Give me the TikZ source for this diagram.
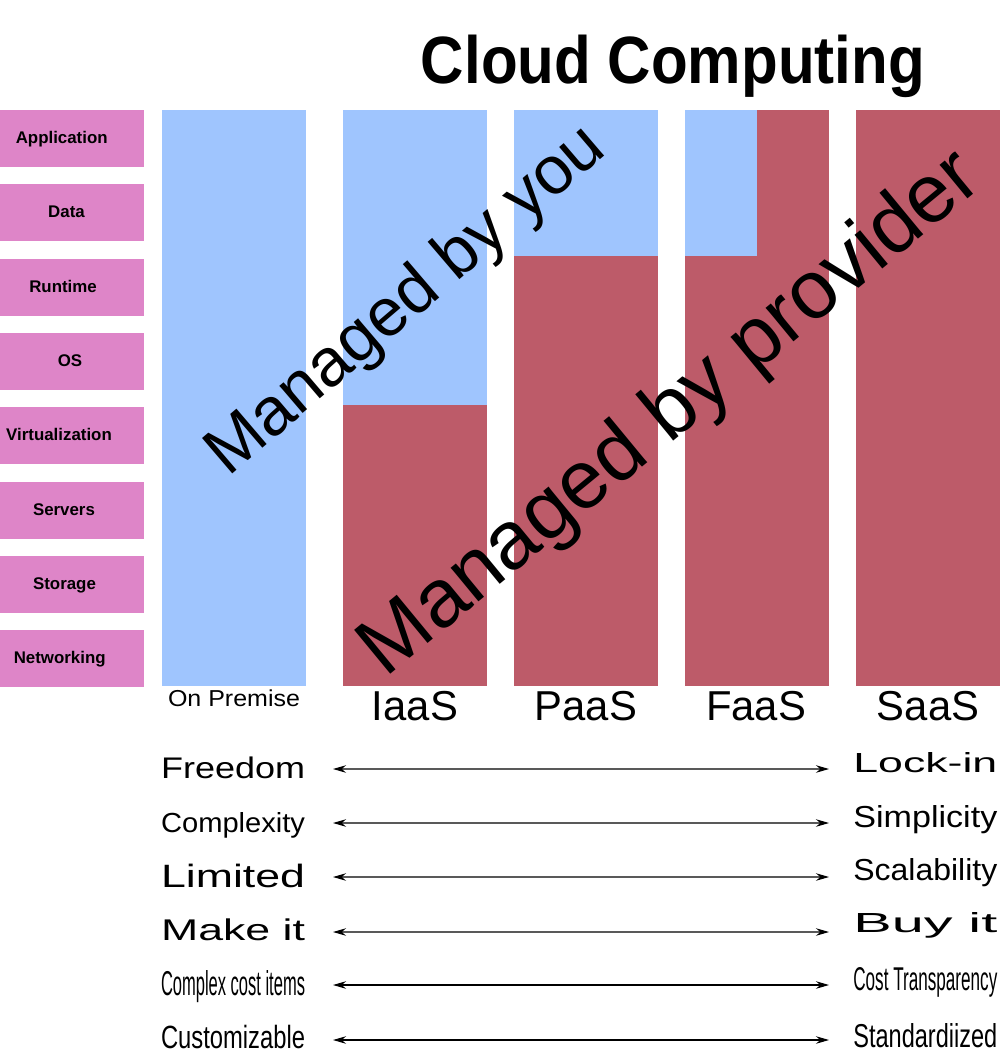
\documentclass[tikz,border=0pt]{standalone}
\usepackage{fontspec}
\setmainfont{Liberation Sans}
\usetikzlibrary{arrows.meta}
\definecolor{youblue}{HTML}{9FC5FE}
\definecolor{provred}{HTML}{BD5B69}
\definecolor{layerpink}{HTML}{DE85C8}
\newcommand{\fitlabel}[2]{\resizebox{2.88cm}{#1}{#2}}

\begin{document}
\begin{tikzpicture}[x=0.02cm, y=-0.02cm,
  layertext/.style={anchor=base, inner sep=0pt, font=\fontsize{9.6}{10}\selectfont\bfseries},
  coltext/.style={anchor=base, inner sep=0pt, font=\fontsize{23.8}{26}\selectfont},
  slanttext/.style={anchor=base west, inner sep=0pt},
  sidetext/.style={anchor=base west, inner sep=0pt},
  biarrow/.style={{Stealth[length=2.6mm,width=1.5mm,color=black]}-{Stealth[length=2.6mm,width=1.5mm,color=black]}, line width=0.6pt}]
  \useasboundingbox (0,0) rectangle (1000,1049);
  % title
  \node[anchor=base west, inner sep=0pt] (title) at (420.6,83.3)
    {\resizebox{10.08cm}{0.97cm}{\bfseries Cloud Computing}};
  % layers
  \foreach \i/\lab/\cx in {0/Application/61.7, 1/Data/66.5, 2/Runtime/63, 3/OS/70,
      4/Virtualization/59, 5/Servers/64, 6/Storage/64.5, 7/Networking/59.7} {
    \fill[layerpink] (0,110+74.3*\i) rectangle (144,167+74.3*\i);
    \node[layertext] (layer\i) at (\cx,143.5+74.3*\i) {\lab};
  }
  % on premise
  \fill[youblue] (162,110) rectangle (306,686);
  % IaaS
  \fill[youblue] (343,110) rectangle (487,405);
  \fill[provred] (343,405) rectangle (487,686);
  % PaaS
  \fill[youblue] (514,110) rectangle (658,256);
  \fill[provred] (514,256) rectangle (658,686);
  % FaaS
  \fill[provred] (685,110) rectangle (829,686);
  \fill[youblue] (685,110) rectangle (757,256);
  % SaaS
  \fill[provred] (856,110) rectangle (1000,686);
  % column names
  \node[anchor=base, inner sep=0pt] (onprem) at (234,706)
    {\resizebox{2.64cm}{0.334cm}{On Premise}};
  \node[coltext] (iaas) at (415,720) {IaaS};
  \node[coltext] (paas) at (586,720) {PaaS};
  \node[coltext] (faas) at (756,720) {FaaS};
  \node[coltext] (saas) at (928,720) {SaaS};
  % who manages what
  \node[slanttext, rotate=40.5, font=\fontsize{38.5}{40}\selectfont] (byyou) at (228,478) {Managed by you};
  \node[slanttext, rotate=39.5, font=\fontsize{47}{50}\selectfont] (byprov) at (385.7,678.4) {Managed by provider};
  % trade-offs, left side
  \node[sidetext] (freedom) at (160.7,778) {\fitlabel{0.432cm}{Freedom}};
  \node[sidetext] (complexity) at (160.7,832) {\fitlabel{0.40cm}{Complexity}};
  \node[sidetext] (limited) at (160.7,887) {\fitlabel{0.468cm}{Limited}};
  \node[sidetext] (makeit) at (160.7,940) {\fitlabel{0.434cm}{Make it}};
  \node[sidetext] (costitems) at (160.7,995) {\fitlabel{0.50cm}{Complex cost items}};
  \node[sidetext] (custom) at (160.7,1048) {\fitlabel{0.466cm}{Customizable}};
  % trade-offs, right side
  \node[sidetext] (lockin) at (853,772) {\fitlabel{0.40cm}{Lock-in}};
  \node[sidetext] (simplicity) at (853,827) {\fitlabel{0.44cm}{Simplicity}};
  \node[sidetext] (scalability) at (853,880) {\fitlabel{0.44cm}{Scalability}};
  \node[sidetext] (buyit) at (853,932) {\fitlabel{0.40cm}{Buy it}};
  \node[sidetext] (costtrans) at (853,990) {\fitlabel{0.46cm}{Cost Transparency}};
  \node[sidetext] (standard) at (853,1047) {\fitlabel{0.48cm}{Standardiized}};
  % arrows between the two sides
  \foreach \i/\y/\c in {1/769/black!65, 2/823/black!65, 3/877/black!65,
      4/932/black!65, 5/985/black, 6/1040/black} {
    \coordinate (from\i) at (333,\y);
    \coordinate (to\i) at (829,\y);
    \draw[biarrow, draw=\c] (from\i) -- (to\i);
  }
\end{tikzpicture}
\end{document}
